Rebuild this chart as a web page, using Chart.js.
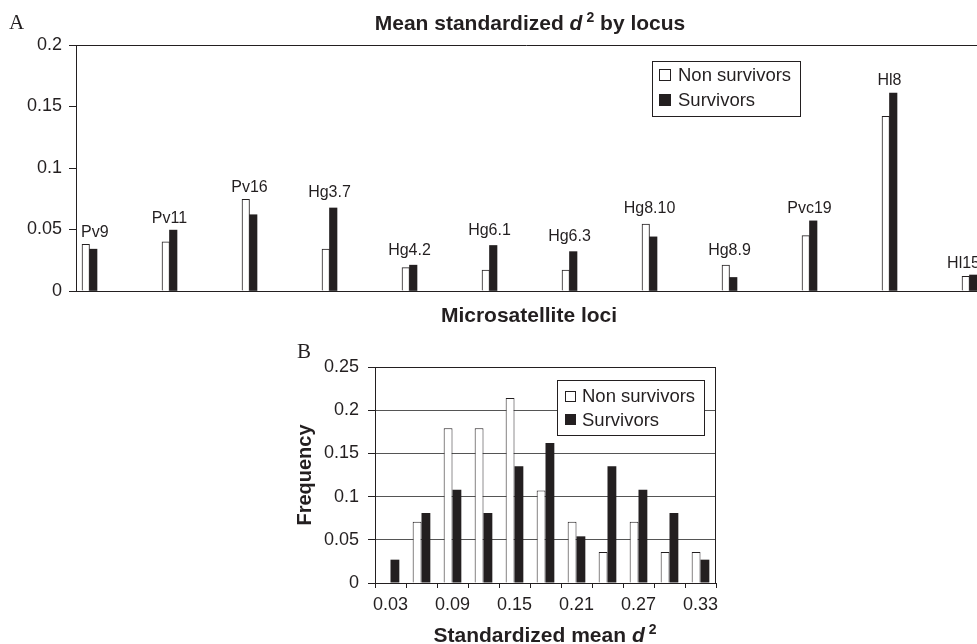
<!DOCTYPE html>
<html>
<head>
<meta charset="utf-8">
<script src="https://cdn.jsdelivr.net/npm/chart.js@4.4.1/dist/chart.umd.min.js"></script>
<style>
  html, body { margin: 0; padding: 0; background: #fff; overflow: hidden; }
  .panel { position: absolute; left: 0; width: 977px; }
  #panelA { top: 0; height: 330px; }
  #panelB { top: 330px; height: 314px; }
</style>
</head>
<body>
<div class="panel" id="panelA"><canvas id="chartA"></canvas></div>
<div class="panel" id="panelB"><canvas id="chartB"></canvas></div>
<script>
// panel A: mean standardized d2 per locus
const loci = ['Pv9', 'Pv11', 'Pv16', 'Hg3.7', 'Hg4.2', 'Hg6.1', 'Hg6.3', 'Hg8.10', 'Hg8.9', 'Pvc19', 'Hl8', 'Hl15']
const lociNonSurvivors = [0.038, 0.040, 0.0745, 0.034, 0.019, 0.017, 0.017, 0.0545, 0.021, 0.045, 0.142, 0.012]
const lociSurvivors = [0.034, 0.0495, 0.062, 0.0675, 0.021, 0.037, 0.032, 0.044, 0.011, 0.057, 0.161, 0.013]
const lociTicks = [0, 0.05, 0.1, 0.15, 0.2]

// panel B: frequency of standardized mean d2
const bins = ['0.03', '0.06', '0.09', '0.12', '0.15', '0.18', '0.21', '0.24', '0.27', '0.30', '0.33']
const freqNonSurvivors = [0, 0.071, 0.179, 0.179, 0.214, 0.107, 0.071, 0.036, 0.071, 0.036, 0.036]
const freqSurvivors = [0.027, 0.081, 0.108, 0.081, 0.135, 0.162, 0.054, 0.135, 0.108, 0.081, 0.027]
const freqTicks = [0, 0.05, 0.1, 0.15, 0.2, 0.25]

const ink = '#231f20'
const sans = "'Liberation Sans', Arial, sans-serif"
const serif = "'Liberation Serif', 'Times New Roman', serif"
const bold = size => 'bold ' + size + 'px ' + sans

Chart.defaults.font.family = sans
Chart.defaults.color = ink

const tickText = v => String(+Number(v).toFixed(2))

// text drawn in pieces so that d can be italic and 2 raised
const textLayer = items => ({
  id: 'textLayer',
  afterDraw (chart) {
    const ctx = chart.ctx
    items.forEach(item => {
      ctx.save()
      ctx.fillStyle = ink
      ctx.textBaseline = 'alphabetic'
      ctx.translate(item.x, item.y)
      if (item.rotate) ctx.rotate(item.rotate)
      let w = 0
      item.parts.forEach(p => { ctx.font = p.font; w += ctx.measureText(p.text).width + (p.dx || 0) })
      let cx = item.align === 'left' ? 0 : -w / 2
      item.parts.forEach(p => {
        ctx.font = p.font
        cx += p.dx || 0
        ctx.fillText(p.text, cx, p.dy || 0)
        cx += ctx.measureText(p.text).width
      })
      ctx.restore()
    })
  }
})

const boxLegend = cfg => ({
  id: 'boxLegend',
  afterDraw (chart) {
    const ctx = chart.ctx
    ctx.save()
    ctx.fillStyle = '#ffffff'
    ctx.fillRect(cfg.x, cfg.y, cfg.w, cfg.h)
    ctx.strokeStyle = ink
    ctx.lineWidth = 1
    ctx.strokeRect(cfg.x + 0.5, cfg.y + 0.5, cfg.w, cfg.h)
    ctx.font = '18.5px ' + sans
    ctx.textBaseline = 'middle'
    chart.data.datasets.forEach((ds, i) => {
      const cy = cfg.rows[i]
      const top = Math.round(cy - cfg.size / 2)
      ctx.fillStyle = ds.backgroundColor
      ctx.fillRect(cfg.boxX, top, cfg.size, cfg.size)
      ctx.strokeRect(cfg.boxX + 0.5, top + 0.5, cfg.size - 1, cfg.size - 1)
      ctx.fillStyle = ink
      ctx.fillText(ds.label, cfg.textX, cy + 1)
    })
    ctx.restore()
  }
})

const frame = sides => ({
  id: 'frame',
  afterDatasetsDraw (chart) {
    const { ctx, chartArea: a } = chart
    const top = Math.round(a.top) + 0.5
    const right = Math.round(a.right) - 0.5
    ctx.save()
    ctx.strokeStyle = ink
    ctx.lineWidth = 1
    ctx.beginPath()
    if (sides.includes('top')) { ctx.moveTo(a.left, top); ctx.lineTo(a.right, top) }
    if (sides.includes('right')) { ctx.moveTo(right, a.top); ctx.lineTo(right, a.bottom) }
    ctx.stroke()
    ctx.restore()
  }
})

// locus names sit above the taller bar of each pair, nudged inside the plot at both ends
const lociLabels = {
  id: 'lociLabels',
  afterDatasetsDraw (chart) {
    const { ctx, chartArea, scales: { x, y } } = chart
    ctx.save()
    ctx.font = '16px ' + sans
    ctx.fillStyle = ink
    ctx.textBaseline = 'alphabetic'
    loci.forEach((name, i) => {
      const m = ctx.measureText(name)
      const top = y.getPixelForValue(Math.max(lociNonSurvivors[i], lociSurvivors[i]))
      let left = x.getPixelForValue(i) - m.width / 2
      left = Math.min(left, chartArea.right - m.width + 3)
      left = Math.max(left, chartArea.left + 5)
      ctx.fillText(name, left, top - 7.5 - m.actualBoundingBoxDescent)
    })
    ctx.restore()
  }
}

const configA = {
  type: 'bar',
  data: {
    datasets: [
      {
        label: 'Non survivors',
        data: loci.map((l, i) => ({ x: i, y: lociNonSurvivors[i] })),
        backgroundColor: '#ffffff',
        borderColor: ink,
        borderWidth: 1,
        barThickness: 7.5
      },
      {
        label: 'Survivors',
        data: loci.map((l, i) => ({ x: i, y: lociSurvivors[i] })),
        backgroundColor: ink,
        borderColor: ink,
        borderWidth: 0,
        barThickness: 7.5
      }
    ]
  },
  options: {
    animation: false,
    maintainAspectRatio: false,
    layout: { padding: { top: 45, left: 0, right: 0, bottom: 39 } },
    plugins: { legend: { display: false }, tooltip: { enabled: false } },
    scales: {
      x: {
        type: 'linear',
        min: -0.16875,
        max: 11.09375,
        offset: false,
        ticks: { display: false },
        grid: { display: false },
        border: { display: true, color: ink, width: 1 },
        afterFit: s => { s.height = 0 }
      },
      y: {
        min: 0,
        max: 0.2,
        afterBuildTicks: s => { s.ticks = lociTicks.map(v => ({ value: v })) },
        ticks: { padding: 7, font: { size: 18 }, color: ink, callback: tickText },
        grid: { drawOnChartArea: false, tickLength: 7, color: ink, tickColor: ink },
        border: { color: ink, width: 1 },
        afterFit: s => { s.width = 76 }
      }
    }
  },
  plugins: [
    lociLabels,
    frame(['top']),
    boxLegend({ x: 652, y: 61, w: 148, h: 55, boxX: 659, size: 12, rows: [75, 99.5], textX: 678 }),
    textLayer([
      { parts: [{ text: 'A', font: '21px ' + serif }], x: 9, y: 29, align: 'left' },
      {
        parts: [
          { text: 'Mean standardized ', font: bold(21) },
          { text: 'd', font: 'italic ' + bold(21) },
          { text: '2', font: bold(14), dx: 4, dy: -8 },
          { text: ' by locus', font: bold(21) }
        ],
        x: 530,
        y: 30
      },
      { parts: [{ text: 'Microsatellite loci', font: bold(21) }], x: 529, y: 321.5 }
    ])
  ]
}

const configB = {
  type: 'bar',
  data: {
    labels: bins,
    datasets: [
      {
        label: 'Non survivors',
        data: freqNonSurvivors,
        backgroundColor: '#ffffff',
        borderColor: ink,
        borderWidth: 1
      },
      {
        label: 'Survivors',
        data: freqSurvivors,
        backgroundColor: ink,
        borderColor: ink,
        borderWidth: 0
      }
    ]
  },
  options: {
    animation: false,
    maintainAspectRatio: false,
    categoryPercentage: 0.57,
    barPercentage: 1,
    layout: { padding: { top: 37, left: 280, right: 261, bottom: 31 } },
    plugins: { legend: { display: false }, tooltip: { enabled: false } },
    scales: {
      x: {
        ticks: {
          autoSkip: false,
          maxRotation: 0,
          padding: 6,
          font: { size: 18 },
          color: ink,
          callback: (v, i) => (i % 2 === 0 ? bins[i] : '')
        },
        grid: { drawOnChartArea: false, offset: true, tickLength: 5, color: ink, tickColor: ink },
        border: { color: ink, width: 1 },
        afterFit: s => { s.height = 30 }
      },
      y: {
        min: 0,
        max: 0.25,
        afterBuildTicks: s => { s.ticks = freqTicks.map(v => ({ value: v })) },
        ticks: { padding: 9, font: { size: 18 }, color: ink, callback: tickText },
        grid: { color: '#555555', tickLength: 7, tickColor: ink },
        border: { color: ink, width: 1 },
        afterFit: s => { s.width = 95 }
      }
    }
  },
  plugins: [
    frame(['top', 'right']),
    boxLegend({ x: 557, y: 50, w: 147, h: 55, boxX: 565, size: 11, rows: [66, 89.5], textX: 582 }),
    textLayer([
      { parts: [{ text: 'B', font: '21px ' + serif }], x: 297, y: 28, align: 'left' },
      { parts: [{ text: 'Frequency', font: bold(20) }], x: 311, y: 145, rotate: -Math.PI / 2 },
      {
        parts: [
          { text: 'Standardized mean ', font: bold(21) },
          { text: 'd', font: 'italic ' + bold(21) },
          { text: '2', font: bold(14), dx: 4, dy: -8 }
        ],
        x: 545,
        y: 311.5
      }
    ])
  ]
}

var chartA = new Chart(document.getElementById('chartA'), configA)
var chartB = new Chart(document.getElementById('chartB'), configB)
</script>
</body>
</html>
